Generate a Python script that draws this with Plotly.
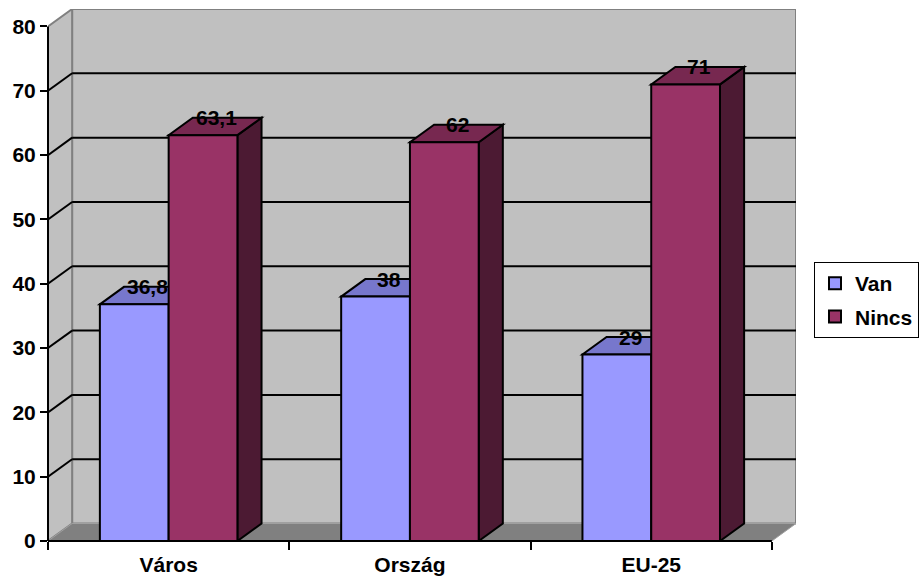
import plotly.graph_objects as go

# ---------------- data ----------------
categories = ["Város", "Ország", "EU-25"]
series_names = ["Van", "Nincs"]
van = [36.8, 38, 29]
nincs = [63.1, 62, 71]
y_ticks = [0, 10, 20, 30, 40, 50, 60, 70, 80]

# ---------------- styling ----------------
front_cols = ["#9999ff", "#993366"]
top_cols = ["#7777cc", "#772850"]
side_cols = ["#4d4d80", "#4c1a33"]
FONT = "Liberation Sans, Arial, sans-serif"
FS = 21

# 3D geometry (in axis units)
DX = 0.1        # depth offset along x (category units)
DY = 2.72       # depth offset along y (value units)
BARW = 0.285    # width of one bar
YMAX = 80
XMIN, XMAX = -0.5, len(categories) - 0.5 + DX
YTOP = YMAX + DY

series = [van, nincs]
xs = list(range(len(categories)))

fig = go.Figure()
for i, (name, vals) in enumerate(zip(series_names, series)):
    fig.add_trace(go.Bar(
        x=xs, y=vals, name=name, legendgroup=name,
        marker=dict(color=front_cols[i], line=dict(color="black", width=2)),
        hoverinfo="skip",
    ))

shapes = []
def poly(pts, fill, line_color="black", lw=2, layer="below", xref="x", yref="y"):
    p = "M " + " L ".join(f"{x},{y}" for x, y in pts) + " Z"
    shapes.append(dict(type="path", path=p, fillcolor=fill,
                       line=dict(color=line_color, width=lw), layer=layer,
                       xref=xref, yref=yref))

def seg(x0, y0, x1, y1, color="black", lw=2, layer="below", xref="x", yref="y"):
    shapes.append(dict(type="line", x0=x0, y0=y0, x1=x1, y1=y1, xref=xref, yref=yref,
                       line=dict(color=color, width=lw), layer=layer))

# back wall
poly([(XMIN + DX, DY), (XMAX, DY), (XMAX, YTOP), (XMIN + DX, YTOP)], "#c0c0c0",
     line_color="#808080", lw=2)
# left side wall
poly([(XMIN, 0), (XMIN, YMAX), (XMIN + DX, YTOP), (XMIN + DX, DY)], "#c0c0c0",
     line_color="#808080", lw=2)
# gridlines (back wall + side wall diagonals)
for v in y_ticks[1:-1]:
    seg(XMIN + DX, v + DY, XMAX, v + DY)
    seg(XMIN, v, XMIN + DX, v + DY)
# floor
poly([(XMIN, 0), (XMIN + DX, DY), (XMAX, DY), (XMAX - DX, 0)], "#808080",
     line_color="#a0a0a0", lw=1)

# 3D faces of the bars (computed from data)
nser = len(series)
for c in xs:
    for i, vals in enumerate(series):
        v = vals[c]
        x0 = c - nser * BARW / 2 + i * BARW
        x1 = x0 + BARW
        # side face
        poly([(x1, 0), (x1 + DX, DY), (x1 + DX, v + DY), (x1, v)], side_cols[i])
        # top face
        poly([(x0, v), (x1, v), (x1 + DX, v + DY), (x0 + DX, v + DY)], top_cols[i])

# front axis lines (paper coordinates derived from axis ranges)
def px(x):
    return (x - XMIN) / (XMAX - XMIN)

def py(y):
    return y / YTOP

seg(0, 0, 0, py(YMAX), xref="paper", yref="paper", layer="above")
seg(0, 0, px(len(categories) - 0.5), 0, xref="paper", yref="paper", layer="above")

# data labels
annotations = []
for c in xs:
    for i, vals in enumerate(series):
        v = vals[c]
        xc = c - nser * BARW / 2 + (i + 0.5) * BARW + DX * 0.55
        annotations.append(dict(
            x=xc, y=v + DY, xref="x", yref="y", showarrow=False,
            text=f"{v:g}".replace(".", ","), yanchor="middle", xanchor="center",
            font=dict(family=FONT, size=FS, color="black", weight="bold"),
        ))

fig.update_layout(
    width=921, height=584,
    margin=dict(l=48, r=125, t=9, b=43, autoexpand=False),
    paper_bgcolor="white", plot_bgcolor="white",
    barmode="group", bargap=0.43, bargroupgap=0,
    shapes=shapes, annotations=annotations,
    showlegend=True,
    legend=dict(
        x=(814 - 48) / 748, y=(541 - 262) / 532, xanchor="left", yanchor="top",
        bordercolor="black", borderwidth=1, bgcolor="white",
        font=dict(family=FONT, size=FS, color="black", weight="bold"),
        traceorder="grouped", tracegroupgap=3,
    ),
    xaxis=dict(
        range=[XMIN, XMAX], tickvals=xs, ticktext=categories, ticks="",
        showline=False, showgrid=False, zeroline=False, ticklabelstandoff=9,
        tickfont=dict(family=FONT, size=FS, color="black", weight="bold"),
        minor=dict(tickvals=[c - 0.5 for c in xs] + [len(xs) - 0.5], ticks="outside",
                   ticklen=8, tickwidth=2, tickcolor="black", showgrid=False),
        fixedrange=True,
    ),
    yaxis=dict(
        range=[0, YTOP], tickvals=y_ticks, ticks="outside", ticklen=7, tickwidth=2,
        tickcolor="black", showline=False, showgrid=False, zeroline=False,
        tickfont=dict(family=FONT, size=FS, color="black", weight="bold"),
        fixedrange=True,
    ),
)

fig.write_html("out.html")
